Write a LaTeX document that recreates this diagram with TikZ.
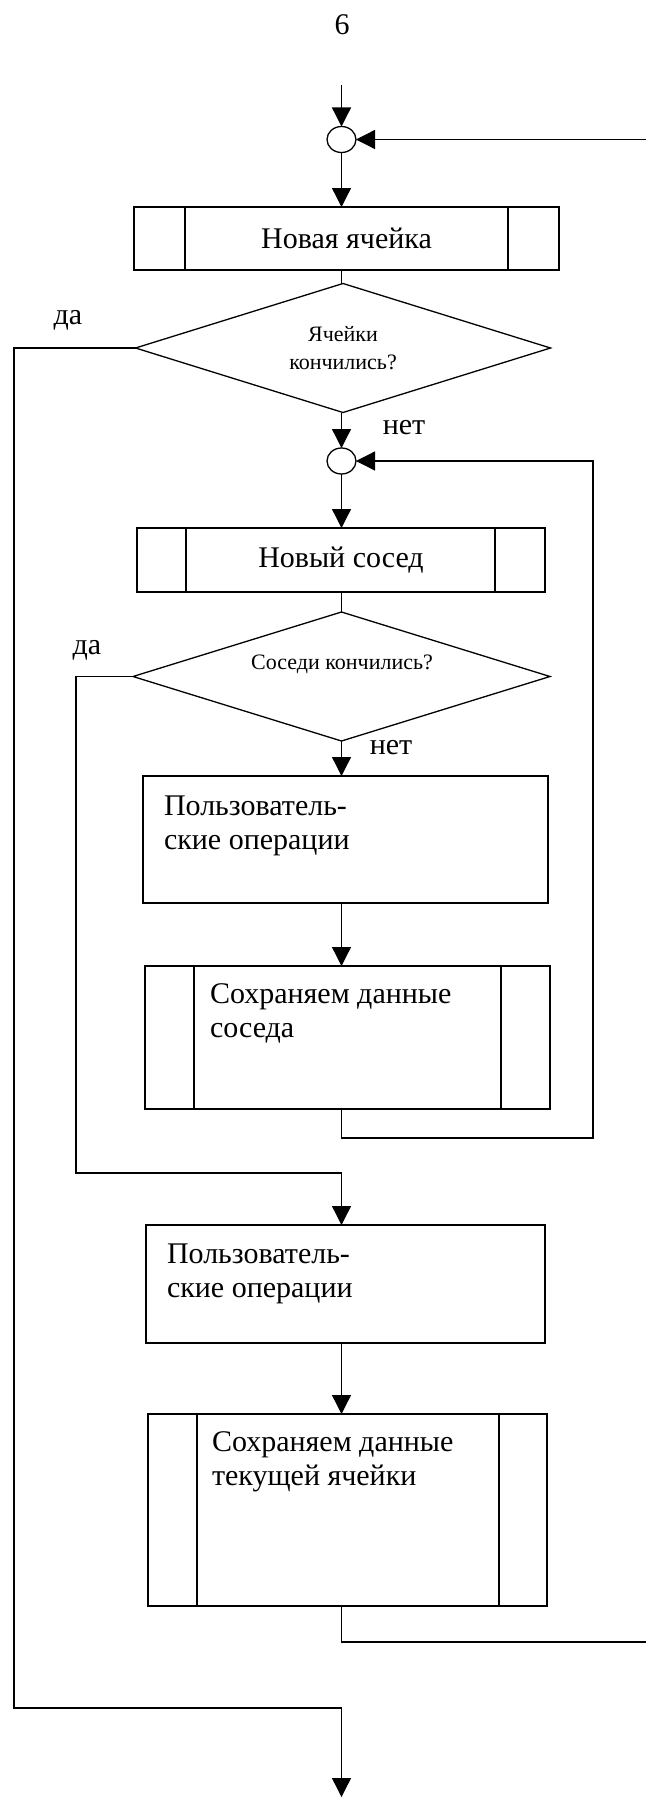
\documentclass[tikz,border=0pt]{standalone}
\usepackage{fontspec}
\setmainfont{Liberation Serif}
\usetikzlibrary{arrows.meta,shapes.geometric,calc}
\begin{document}
\begin{tikzpicture}[x=0.5pt,y=-0.5pt,
  line width=0.65pt,
  every node/.style={inner sep=0pt, outer sep=0pt},
  txt/.style={font=\fontsize{15}{17}\selectfont},
  small/.style={font=\fontsize{11}{14}\selectfont},
  box/.style={draw, rectangle},
  conn/.style={ellipse, draw, minimum width=14.5pt, minimum height=13pt},
  dec/.style={diamond, draw, aspect=3.2, minimum width=207.5pt, minimum height=64.5pt},
  arr/.style={-{Triangle[length=9.5pt,width=9.5pt]}}]
\useasboundingbox (0,0) rectangle (646,1798);

% nodes
\node[txt] (pg) at (342,25) {6};
\node[conn] (c1) at (341.5,139.5) {};
\node[box, txt, minimum width=212.5pt, minimum height=31.5pt] (b1) at (346.5,238.5) {Новая ячейка};
\node[dec, small, align=center] (d1) at (343,348) {Ячейки\\кончились?};
\node[txt] (da1) at (68,320) {да};
\node[txt] (net1) at (404,428) {нет};
\node[conn] (c2) at (341.5,461) {};
\node[box, txt, minimum width=204pt, minimum height=32pt] (b2) at (341,560) {Новый сосед};
\node[dec, minimum width=208.5pt] (d2) at (341.5,676.5) {};
\node[small] (d2t) at (342,664) {Соседи кончились?};
\node[txt] (da2) at (87,650) {да};
\node[txt] (net2) at (391,748) {нет};
\node[box, minimum width=202.5pt, minimum height=63.5pt] (b3) at (345.5,839.5) {};
\node[txt, align=left, anchor=north west] (b3t) at (164,796) {Пользователь-\\ские операции};
\node[box, minimum width=202.5pt, minimum height=71.5pt] (b4) at (347.5,1037.5) {};
\node[txt, align=left, anchor=north west] (b4t) at (210,984) {Сохраняем данные\\соседа};
\node[box, minimum width=199.5pt, minimum height=59pt] (b5) at (345.5,1284) {};
\node[txt, align=left, anchor=north west] (b5t) at (167,1244) {Пользователь-\\ские операции};
\node[box, minimum width=199.5pt, minimum height=96pt] (b6) at (347.5,1510) {};
\node[txt, align=left, anchor=north west] (b6t) at (212,1432) {Сохраняем данные\\текущей ячейки};

% inner lines of predefined-process boxes
\draw ($(b1.north west)+(51,0)$) -- ($(b1.south west)+(51,0)$);
\draw ($(b1.north east)+(-51,0)$) -- ($(b1.south east)+(-51,0)$);
\draw ($(b2.north west)+(49,0)$) -- ($(b2.south west)+(49,0)$);
\draw ($(b2.north east)+(-50,0)$) -- ($(b2.south east)+(-50,0)$);
\draw ($(b4.north west)+(49,0)$) -- ($(b4.south west)+(49,0)$);
\draw ($(b4.north east)+(-49,0)$) -- ($(b4.south east)+(-49,0)$);
\draw ($(b6.north west)+(49,0)$) -- ($(b6.south west)+(49,0)$);
\draw ($(b6.north east)+(-48,0)$) -- ($(b6.south east)+(-48,0)$);

% free ends and bends
\coordinate (in) at (341.5,85);
\coordinate (r1) at (646,139.5);
\coordinate (ya) at (14,1708);
\coordinate (exit) at (341.5,1797);
\coordinate (yb) at (76,1173);
\coordinate (rb) at (593,1138);
\coordinate (rc) at (646,1642);

% connectors
\draw[arr] (in) -- (c1.north);
\draw[arr] (r1) -- (c1.east);
\draw[arr] (c1.south) -- (c1.south |- b1.north);
\draw (c1 |- b1.south) -- (c1 |- d1.north);
\draw[arr] (d1.west) -| (ya) -| (exit);
\draw[arr] (c2 |- d1.south) -- (c2.north);
\draw[arr] (c2.south) -- (c2.south |- b2.north);
\draw (c2 |- b2.south) -- (c2 |- d2.north);
\draw[arr] (d2.west) -| (yb) -| (c2 |- b5.north);
\draw[arr] (c2 |- d2.south) -- (c2 |- b3.north);
\draw[arr] (c2 |- b3.south) -- (c2 |- b4.north);
\draw[arr] (c2 |- b4.south) |- (rb) |- (c2.east);
\draw[arr] (c2 |- b5.south) -- (c2 |- b6.north);
\draw (c2 |- b6.south) |- (rc);
\end{tikzpicture}
\end{document}
